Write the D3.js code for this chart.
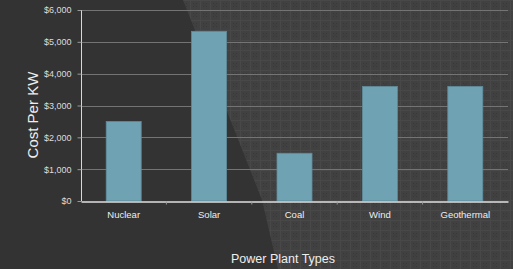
<!DOCTYPE html>
<html>
<head>
<meta charset="utf-8">
<style>
body { margin: 0; background: #333; }
text { font-family: "Liberation Sans", Arial, sans-serif; }
</style>
</head>
<body>
<svg width="513" height="269"></svg>
<script src="https://cdn.jsdelivr.net/npm/d3@7"></script>
<script>
var plantTypes = ["Nuclear", "Solar", "Coal", "Wind", "Geothermal"];
var costPerKW = [2500, 5330, 1500, 3600, 3600];
var yTicks = [0, 1000, 2000, 3000, 4000, 5000, 6000];

var svg = d3.select("svg"),
    width = +svg.attr("width"),
    height = +svg.attr("height");

var margin = {top: 10, right: 5, bottom: 68, left: 81};

// background: dark left, textured right
var defs = svg.append("defs");
var pat = defs.append("pattern").attr("id", "tex")
    .attr("width", 10).attr("height", 10).attr("patternUnits", "userSpaceOnUse");
pat.append("rect").attr("width", 10).attr("height", 10).attr("fill", "#414141");
pat.append("rect").attr("x", 0).attr("y", 0).attr("width", 10).attr("height", 1).attr("fill", "#484848");
pat.append("rect").attr("x", 0).attr("y", 0).attr("width", 1).attr("height", 10).attr("fill", "#484848");
[[3,3],[6,3],[3,6],[6,6],[4.5,4.5]].forEach(function(p){
  pat.append("rect").attr("x", p[0]).attr("y", p[1]).attr("width", 1).attr("height", 1).attr("fill", "#383838");
});

svg.append("rect").attr("width", width).attr("height", height).attr("fill", "#333333");
svg.append("polygon")
  .attr("points", "183,0 513,0 513,269 278,269 262,200")
  .attr("fill", "url(#tex)");

var x = d3.scaleBand()
    .domain(plantTypes)
    .range([margin.left, width - margin.right])
    .paddingInner(0.59).paddingOuter(0.295);

var y = d3.scaleLinear()
    .domain([0, 6000])
    .range([height - margin.bottom, margin.top]);

// gridlines
svg.append("g").selectAll("line")
  .data(yTicks.slice(1))
  .enter().append("line")
    .attr("x1", margin.left).attr("x2", width - margin.right)
    .attr("y1", function(d){ return Math.round(y(d)) + 0.5; })
    .attr("y2", function(d){ return Math.round(y(d)) + 0.5; })
    .attr("stroke", "#747474").attr("stroke-width", 1);

// bars
svg.append("g").selectAll("rect")
  .data(plantTypes)
  .enter().append("rect")
    .attr("x", function(d){ return x(d); })
    .attr("width", x.bandwidth())
    .attr("y", function(d, i){ return y(costPerKW[i]); })
    .attr("height", function(d, i){ return y(0) - y(costPerKW[i]); })
    .attr("fill", "#6fa2b3")
    .attr("stroke", "#5e8b9a").attr("stroke-width", 0.8);

// y axis
var yAxis = svg.append("g")
    .attr("transform", "translate(" + (margin.left + 0.5) + ",0)")
    .call(d3.axisLeft(y).tickValues(yTicks).tickSize(4).tickPadding(6)
      .tickFormat(function(d){ return "$" + d3.format(",")(d); }));
yAxis.select(".domain").attr("stroke", "#d8d8d8").attr("d", "M0," + y(6000) + "V" + y(0));
yAxis.selectAll(".tick line").attr("stroke", "#999");
yAxis.selectAll("text").attr("fill", "#dddddd").style("font-size", "9px");

// x axis
var xAxis = svg.append("g")
    .attr("transform", "translate(0," + (Math.round(y(0)) + 0.5) + ")")
    .call(d3.axisBottom(x).tickSize(0).tickPadding(10));
xAxis.select(".domain").attr("stroke", "#e0e0e0").attr("stroke-width", 1.5);
xAxis.selectAll("text").attr("fill", "#eeeeee").style("font-size", "9.5px");
xAxis.selectAll(".sep")
  .data(plantTypes.slice(1))
  .enter().append("line")
    .attr("x1", function(d){ return x(d) - x.step() * 0.295; })
    .attr("x2", function(d){ return x(d) - x.step() * 0.295; })
    .attr("y1", 0).attr("y2", 3)
    .attr("stroke", "#999");

// titles
svg.append("text")
    .attr("transform", "translate(38," + (y(2700)) + ") rotate(-90)")
    .attr("text-anchor", "middle")
    .attr("fill", "#eeeeee")
    .style("font-size", "15px")
    .text("Cost Per KW");

svg.append("text")
    .attr("x", 283)
    .attr("y", 263)
    .attr("text-anchor", "middle")
    .attr("fill", "#eeeeee")
    .style("font-size", "12.5px")
    .text("Power Plant Types");
</script>
</body>
</html>
